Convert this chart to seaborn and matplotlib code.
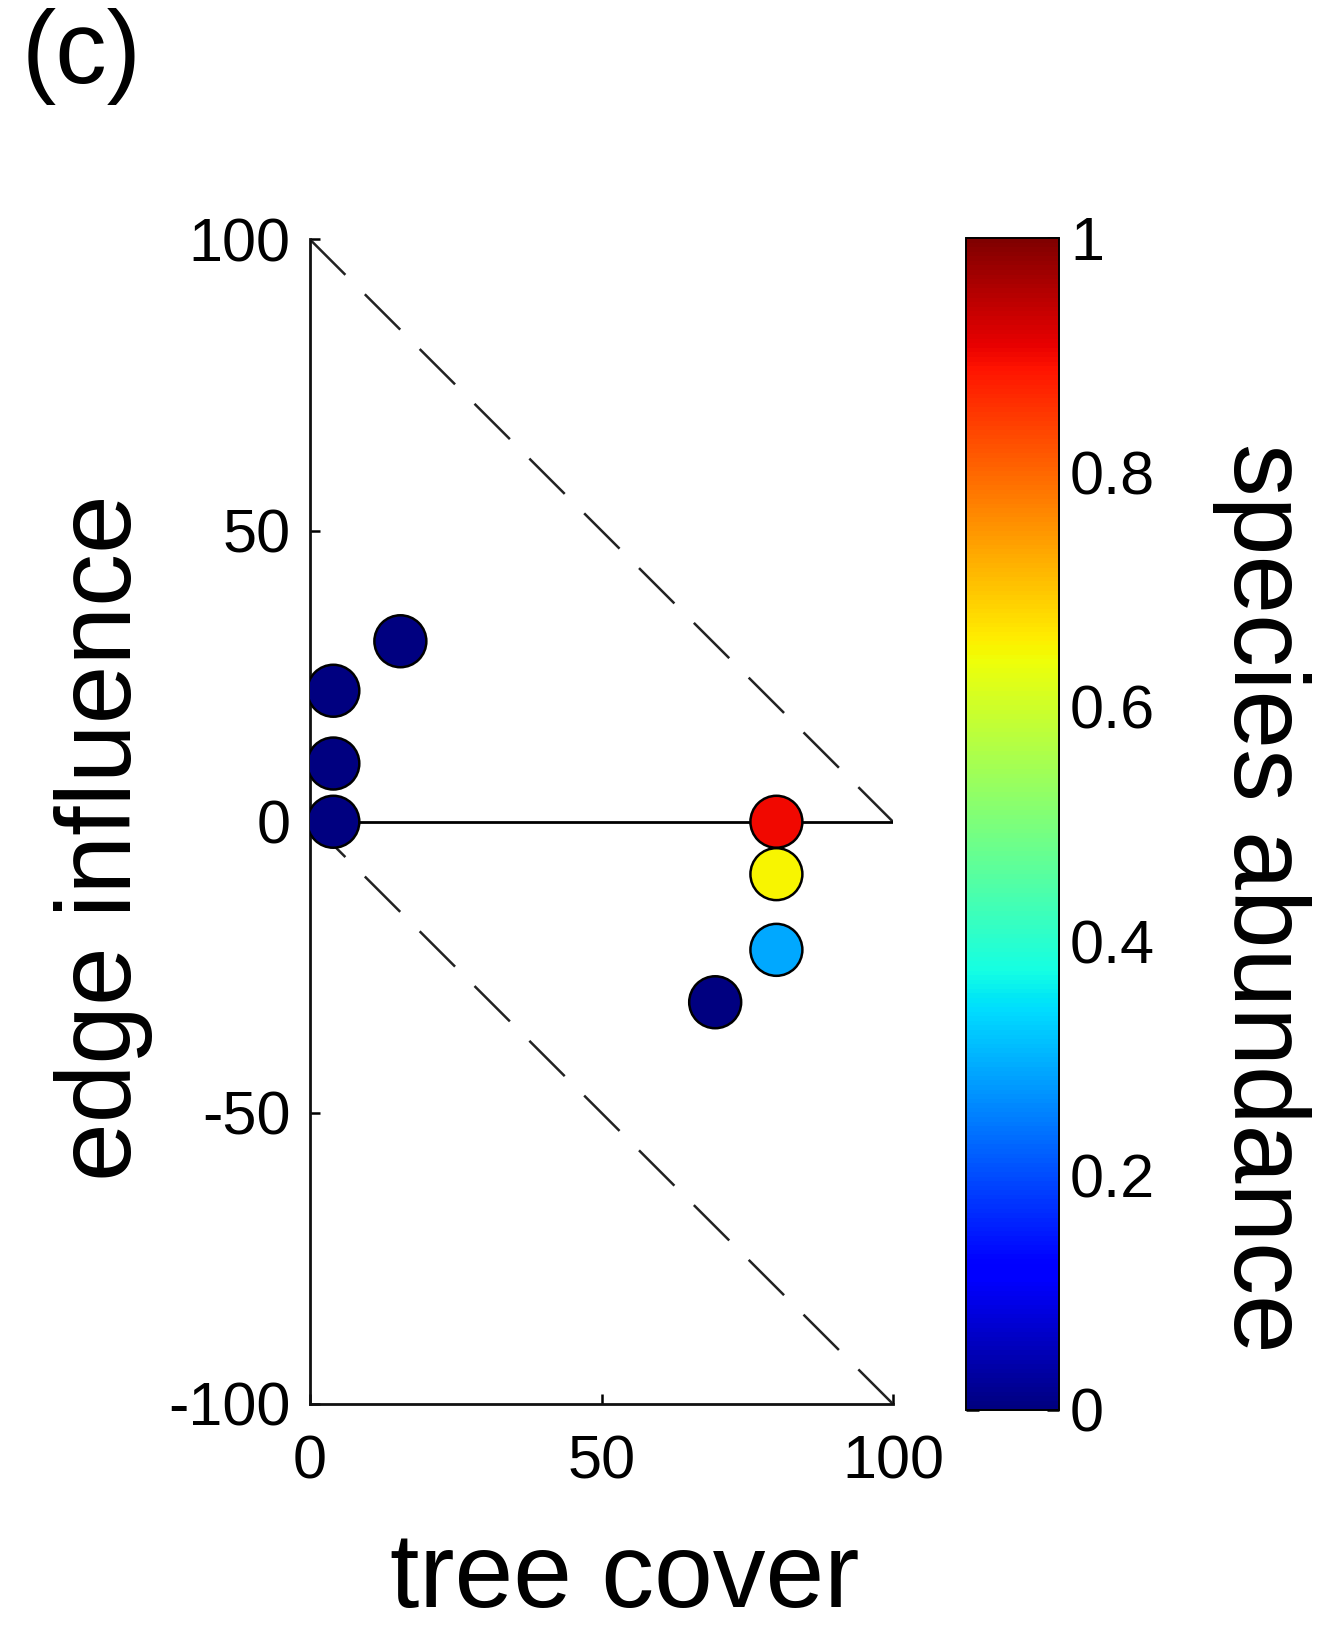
import numpy as np
import pandas as pd
import matplotlib
matplotlib.use("Agg")
import matplotlib.pyplot as plt
import seaborn as sns

# ---- data ----
tree_cover = [4, 4, 4, 15.5, 80, 80, 80, 69.5]
edge_influence = [0, 10, 22.5, 31, 0, -9, -22, -31]
abundance = [0.0, 0.0, 0.0, 0.0, 0.9, 0.65, 0.29, 0.0]
x_ticks = [0, 50, 100]
y_ticks = [-100, -50, 0, 50, 100]
cbar_ticks = [0, 0.2, 0.4, 0.6, 0.8, 1]
cbar_ticklabels = ["0", "0.2", "0.4", "0.6", "0.8", "1"]
upper_bound_x = [0, 100]
upper_bound_y = [100, 0]
lower_bound_x = [0, 100]
lower_bound_y = [0, -100]

df = pd.DataFrame({"tree cover": tree_cover,
                   "edge influence": edge_influence,
                   "abundance": abundance})

sns.set_theme(style="white")
plt.rcParams["font.family"] = ["Liberation Sans", "DejaVu Sans"]
plt.rcParams["text.color"] = "black"
plt.rcParams["xtick.color"] = "black"
plt.rcParams["ytick.color"] = "black"

jet = matplotlib.colormaps["jet"]

W, H = 1335, 1647
fig = plt.figure(figsize=(W / 100, H / 100), dpi=100)
fig.patch.set_facecolor("white")

ax = fig.add_axes([310 / W, 1 - 1404 / H, (893 - 310) / W, (1404 - 239.5) / H])
ax.set_facecolor("white")

# boundary lines
ax.plot(upper_bound_x, upper_bound_y, color="#222222", lw=1.8,
        linestyle=(0, (20, 11)), zorder=1)
ax.plot(lower_bound_x, lower_bound_y, color="#222222", lw=1.8,
        linestyle=(0, (20, 11)), zorder=1)
ax.plot([0, 100], [0, 0], color="black", lw=2, zorder=2)

sns.scatterplot(data=df, x="tree cover", y="edge influence", hue="abundance",
                palette=jet, hue_norm=(0, 1), s=1400, edgecolor="black",
                linewidth=1.8, legend=False, ax=ax, zorder=3)

ax.set_xlim(0, 100)
ax.set_ylim(-100, 100)
ax.set_xticks(x_ticks)
ax.set_yticks(y_ticks)
ax.set_xticklabels([str(t) for t in x_ticks])
ax.set_yticklabels([str(t) for t in y_ticks])
ax.set_xlabel("")
ax.set_ylabel("")
for s in ["top", "right"]:
    ax.spines[s].set_visible(False)
for s in ["left", "bottom"]:
    ax.spines[s].set_visible(True)
    ax.spines[s].set_color("#111111")
    ax.spines[s].set_linewidth(2)
ax.tick_params(axis="both", direction="in", length=7, width=1.8,
               colors="black", labelsize=44, labelcolor="black")
ax.tick_params(axis="x", pad=22)
ax.tick_params(axis="y", pad=14, left=True)
ax.tick_params(axis="x", bottom=True)

# colorbar
cax = fig.add_axes([966 / W, 1 - 1410 / H, (1059 - 966) / W, (1410 - 238) / H])
sm = matplotlib.cm.ScalarMappable(norm=matplotlib.colors.Normalize(0, 1),
                                  cmap=jet)
cb = fig.colorbar(sm, cax=cax, ticks=cbar_ticks)
cb.ax.set_yticklabels(cbar_ticklabels)
cb.outline.set_edgecolor("black")
cb.outline.set_linewidth(1.4)
cb.ax.tick_params(direction="in", length=9, width=1.8, left=True, right=True,
                  labelsize=44, pad=8, colors="black")

# labels
fig.text(625 / W, 1 - 1607 / H, "tree cover", ha="center", va="baseline",
         fontsize=76, color="black")
fig.text(104 / W, 1 - 838 / H, "edge influence", ha="center", va="center",
         rotation=90, fontsize=76, color="black")
fig.text(1262 / W, 1 - 898 / H, "species abundance", ha="center",
         va="center", rotation=270, fontsize=76, color="black")
fig.text(22 / W, 1 - 8 / H, "(c)", ha="left", va="top", fontsize=74,
         color="black")

fig.savefig("out.png", dpi=100, facecolor="white")
